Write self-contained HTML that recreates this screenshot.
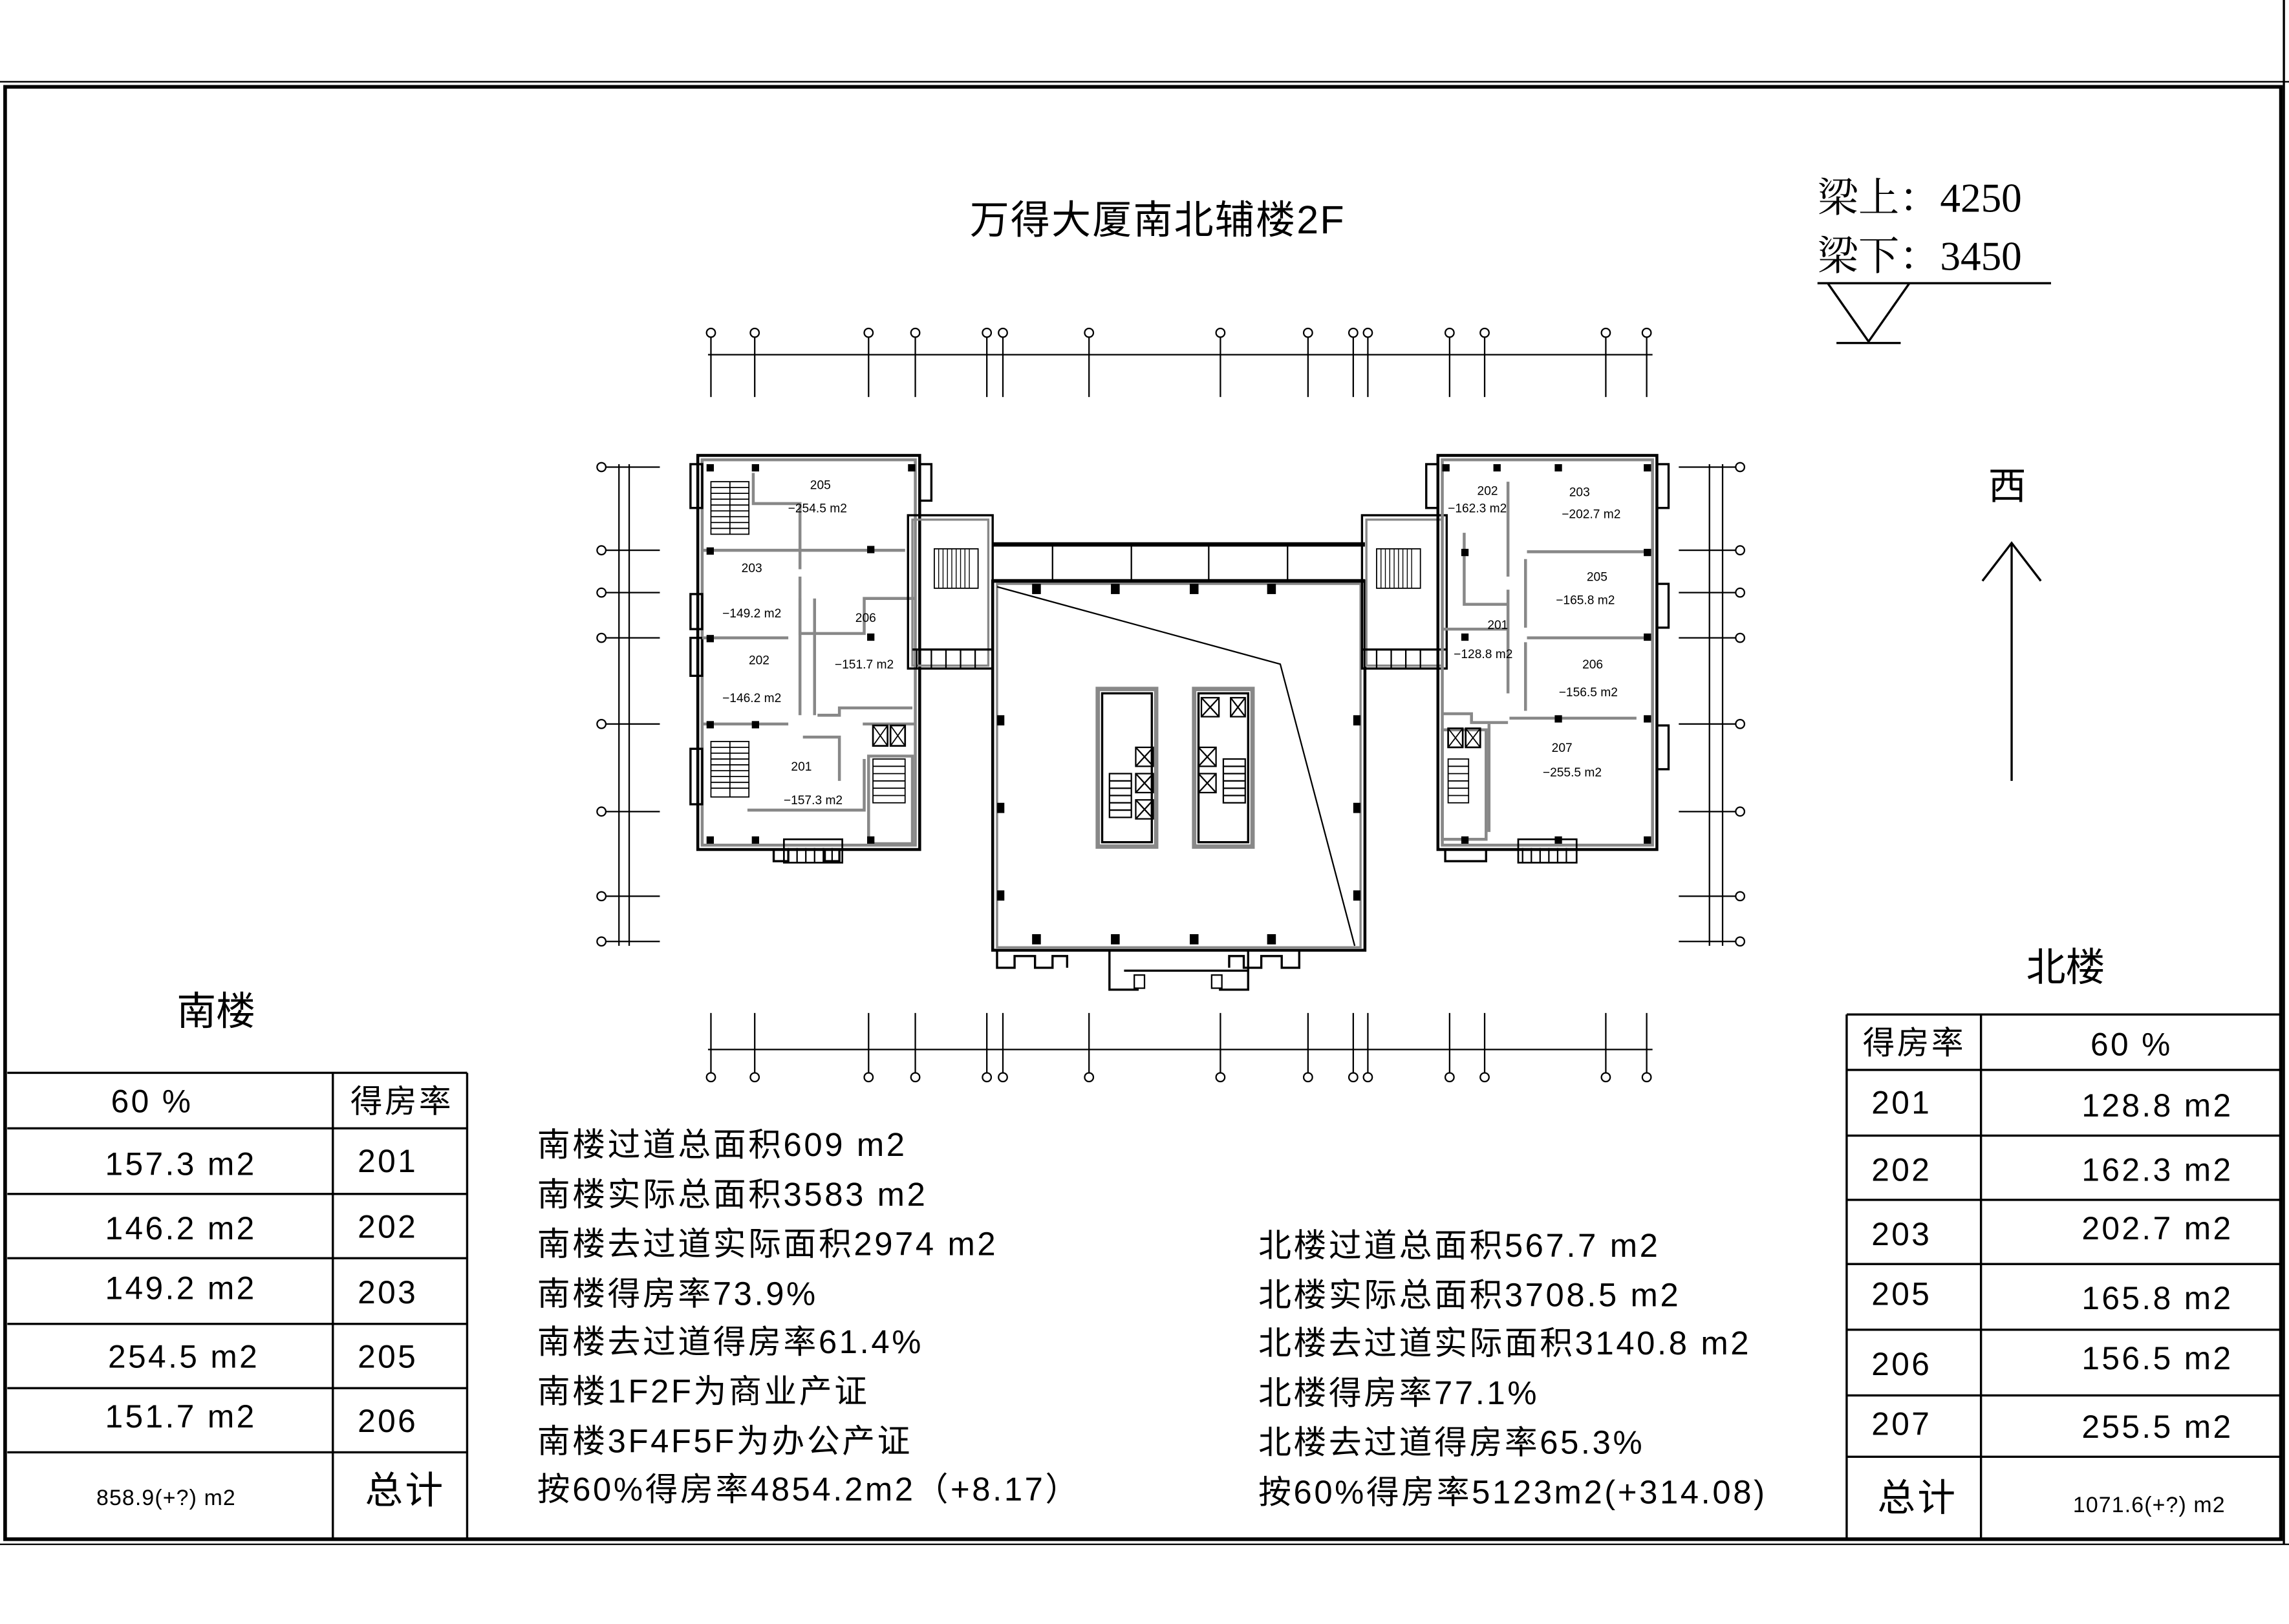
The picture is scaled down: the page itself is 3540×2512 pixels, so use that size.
<!DOCTYPE html>
<html><head><meta charset="utf-8"><style>
html,body{margin:0;padding:0;background:#fff}
svg{display:block}
text{font-family:"Liberation Sans","Noto Sans CJK SC",sans-serif;fill:#000}
.tb text{letter-spacing:1.5px}
.nt text{letter-spacing:1.6px}
</style></head><body>
<svg width="3540" height="2512" viewBox="0 0 1568 1112.6" preserveAspectRatio="none" xmlns="http://www.w3.org/2000/svg">
<rect x="0" y="0" width="1568" height="1112.6" fill="#fff"/>
<!-- frame -->
<g fill="none" stroke="#000">
<line x1="0" y1="56" x2="1568" y2="56" stroke-width="1"/>
<rect x="3.5" y="59.5" width="1559" height="995" stroke-width="2.5"/>
<line x1="0" y1="1058" x2="1568" y2="1058" stroke-width="1"/>
<line x1="1564.5" y1="0" x2="1564.5" y2="1058" stroke-width="1.5"/>
</g>
<!-- title -->
<text x="793" y="160" font-size="27" text-anchor="middle" style="letter-spacing:1px">万得大厦南北辅楼2F</text>
<text x="1245" y="145" font-size="28" style="font-family:'Liberation Serif','Noto Serif CJK SC',serif">梁上：4250</text>
<text x="1245" y="185" font-size="28" style="font-family:'Liberation Serif','Noto Serif CJK SC',serif">梁下：3450</text>
<g stroke="#000" fill="none" stroke-width="1.5">
<line x1="1245" y1="194" x2="1405" y2="194"/>
<polyline points="1252,194 1280,234 1308,194"/>
<line x1="1258" y1="235" x2="1302" y2="235"/>
<line x1="1378" y1="535" x2="1378" y2="372"/>
<polyline points="1358,398 1378,372 1398,398"/>
</g>
<text x="1375" y="342" font-size="26" text-anchor="middle">西</text>
<text x="148" y="702" font-size="27" text-anchor="middle">南楼</text>
<text x="1415" y="672" font-size="27" text-anchor="middle">北楼</text>

<!-- dimension lines top & bottom -->
<g stroke="#000" fill="#fff" stroke-width="1">
<line x1="485" y1="243" x2="1132" y2="243"/>
<line x1="485" y1="719" x2="1132" y2="719"/>
<g>
<line x1="487" y1="228" x2="487" y2="272"/><line x1="517" y1="228" x2="517" y2="272"/><line x1="595" y1="228" x2="595" y2="272"/><line x1="627" y1="228" x2="627" y2="272"/><line x1="676" y1="228" x2="676" y2="272"/><line x1="687" y1="228" x2="687" y2="272"/><line x1="746" y1="228" x2="746" y2="272"/><line x1="836" y1="228" x2="836" y2="272"/><line x1="896" y1="228" x2="896" y2="272"/><line x1="927" y1="228" x2="927" y2="272"/><line x1="937" y1="228" x2="937" y2="272"/><line x1="993" y1="228" x2="993" y2="272"/><line x1="1017" y1="228" x2="1017" y2="272"/><line x1="1100" y1="228" x2="1100" y2="272"/><line x1="1128" y1="228" x2="1128" y2="272"/>
</g>
<g transform="translate(0,466)">
<line x1="487" y1="228" x2="487" y2="272"/><line x1="517" y1="228" x2="517" y2="272"/><line x1="595" y1="228" x2="595" y2="272"/><line x1="627" y1="228" x2="627" y2="272"/><line x1="676" y1="228" x2="676" y2="272"/><line x1="687" y1="228" x2="687" y2="272"/><line x1="746" y1="228" x2="746" y2="272"/><line x1="836" y1="228" x2="836" y2="272"/><line x1="896" y1="228" x2="896" y2="272"/><line x1="927" y1="228" x2="927" y2="272"/><line x1="937" y1="228" x2="937" y2="272"/><line x1="993" y1="228" x2="993" y2="272"/><line x1="1017" y1="228" x2="1017" y2="272"/><line x1="1100" y1="228" x2="1100" y2="272"/><line x1="1128" y1="228" x2="1128" y2="272"/>
</g>
<g>
<circle cx="487" cy="228" r="3"/><circle cx="517" cy="228" r="3"/><circle cx="595" cy="228" r="3"/><circle cx="627" cy="228" r="3"/><circle cx="676" cy="228" r="3"/><circle cx="687" cy="228" r="3"/><circle cx="746" cy="228" r="3"/><circle cx="836" cy="228" r="3"/><circle cx="896" cy="228" r="3"/><circle cx="927" cy="228" r="3"/><circle cx="937" cy="228" r="3"/><circle cx="993" cy="228" r="3"/><circle cx="1017" cy="228" r="3"/><circle cx="1100" cy="228" r="3"/><circle cx="1128" cy="228" r="3"/>
<circle cx="487" cy="738" r="3"/><circle cx="517" cy="738" r="3"/><circle cx="595" cy="738" r="3"/><circle cx="627" cy="738" r="3"/><circle cx="676" cy="738" r="3"/><circle cx="687" cy="738" r="3"/><circle cx="746" cy="738" r="3"/><circle cx="836" cy="738" r="3"/><circle cx="896" cy="738" r="3"/><circle cx="927" cy="738" r="3"/><circle cx="937" cy="738" r="3"/><circle cx="993" cy="738" r="3"/><circle cx="1017" cy="738" r="3"/><circle cx="1100" cy="738" r="3"/><circle cx="1128" cy="738" r="3"/>
</g>
<line x1="424" y1="318" x2="424" y2="648"/><line x1="431" y1="318" x2="431" y2="648"/>
<line x1="412" y1="320" x2="452" y2="320"/><line x1="412" y1="377" x2="452" y2="377"/><line x1="412" y1="406" x2="452" y2="406"/><line x1="412" y1="437" x2="452" y2="437"/><line x1="412" y1="496" x2="452" y2="496"/><line x1="412" y1="556" x2="452" y2="556"/><line x1="412" y1="614" x2="452" y2="614"/><line x1="412" y1="645" x2="452" y2="645"/>
<circle cx="412" cy="320" r="3"/><circle cx="412" cy="377" r="3"/><circle cx="412" cy="406" r="3"/><circle cx="412" cy="437" r="3"/><circle cx="412" cy="496" r="3"/><circle cx="412" cy="556" r="3"/><circle cx="412" cy="614" r="3"/><circle cx="412" cy="645" r="3"/>
<line x1="1171" y1="318" x2="1171" y2="648"/><line x1="1180" y1="318" x2="1180" y2="648"/>
<line x1="1150" y1="320" x2="1192" y2="320"/><line x1="1150" y1="377" x2="1192" y2="377"/><line x1="1150" y1="406" x2="1192" y2="406"/><line x1="1150" y1="437" x2="1192" y2="437"/><line x1="1150" y1="496" x2="1192" y2="496"/><line x1="1150" y1="556" x2="1192" y2="556"/><line x1="1150" y1="614" x2="1192" y2="614"/><line x1="1150" y1="645" x2="1192" y2="645"/>
<circle cx="1192" cy="320" r="3"/><circle cx="1192" cy="377" r="3"/><circle cx="1192" cy="406" r="3"/><circle cx="1192" cy="437" r="3"/><circle cx="1192" cy="496" r="3"/><circle cx="1192" cy="556" r="3"/><circle cx="1192" cy="614" r="3"/><circle cx="1192" cy="645" r="3"/>
</g>

<!-- South building (left) -->
<g fill="none">
<rect x="478" y="312" width="152" height="270" stroke="#000" stroke-width="2"/>
<rect x="481" y="315" width="146" height="264" stroke="#888" stroke-width="2"/>
<rect x="473" y="318" width="8" height="30" stroke="#000" stroke-width="1.5"/>
<rect x="473" y="407" width="8" height="24" stroke="#000" stroke-width="1.5"/>
<rect x="473" y="437" width="8" height="26" stroke="#000" stroke-width="1.5"/>
<rect x="473" y="513" width="8" height="38" stroke="#000" stroke-width="1.5"/>
<rect x="630" y="318" width="8" height="25" stroke="#000" stroke-width="1.5"/>
<g stroke="#888" stroke-width="2">
<line x1="481" y1="377" x2="620" y2="377"/>
<line x1="481" y1="437" x2="540" y2="437"/>
<line x1="481" y1="496" x2="540" y2="496"/>
<polyline points="516,324 516,345 548,345 548,390"/>
<polyline points="548,395 548,434 592,434 592,410 627,410"/>
<line x1="548" y1="410" x2="548" y2="490"/>
<line x1="558" y1="410" x2="558" y2="490"/>
<polyline points="560,490 575,490 575,485 625,485"/>
<polyline points="550,505 575,505 575,535"/>
<polyline points="512,555 592,555 592,520"/>
<line x1="591" y1="496" x2="627" y2="496"/>
<rect x="595" y="518" width="30" height="60"/>
</g>
<g stroke="#000" stroke-width="0.8">
<rect x="487" y="330" width="26" height="36"/>
<path d="M487 334h26M487 338h26M487 342h26M487 346h26M487 350h26M487 354h26M487 358h26M487 362h26M500 330v36"/>
<rect x="487" y="508" width="26" height="38"/>
<path d="M487 512h26M487 516h26M487 520h26M487 524h26M487 528h26M487 532h26M487 536h26M487 540h26M500 508v38"/>
<rect x="598" y="520" width="22" height="30"/>
<path d="M598 525h22M598 530h22M598 535h22M598 540h22M598 545h22"/>
<rect x="598" y="497" width="10" height="14" stroke-width="1.2"/><path d="M598 497l10 14M608 497l-10 14"/>
<rect x="610" y="497" width="10" height="14" stroke-width="1.2"/><path d="M610 497l10 14M620 497l-10 14"/>
</g>
<path d="M530 582v8h10v-8M575 582v8h-10v-8" stroke="#000" stroke-width="1.5"/>
<rect x="537" y="575" width="40" height="16" stroke="#000" stroke-width="1.2"/>
<path d="M540 591v-10M546 591v-10M552 591v-10M558 591v-10M564 591v-10M570 591v-10" stroke="#000"/>
</g>
<g fill="#000">
<rect x="484" y="318" width="5" height="5"/><rect x="515" y="318" width="5" height="5"/><rect x="622" y="318" width="5" height="5"/>
<rect x="484" y="375" width="5" height="5"/><rect x="594" y="374" width="5" height="5"/>
<rect x="594" y="434" width="5" height="5"/><rect x="484" y="435" width="5" height="5"/>
<rect x="484" y="494" width="5" height="5"/><rect x="515" y="494" width="5" height="5"/>
<rect x="484" y="573" width="5" height="5"/><rect x="515" y="573" width="5" height="5"/><rect x="594" y="573" width="5" height="5"/>
</g>
<g font-size="8.5" text-anchor="middle">
<text x="562" y="335">205</text><text x="560" y="351">−254.5 m2</text>
<text x="515" y="392">203</text><text x="515" y="423">−149.2 m2</text>
<text x="593" y="426">206</text><text x="592" y="458">−151.7 m2</text>
<text x="520" y="455">202</text><text x="515" y="481">−146.2 m2</text>
<text x="549" y="528">201</text><text x="557" y="551">−157.3 m2</text>
</g>
<!-- link south -->
<g fill="none" stroke="#000" stroke-width="1.5">
<rect x="622" y="353" width="58" height="105"/>
<rect x="625" y="356" width="52" height="100" stroke="#888"/>
<rect x="640" y="376" width="30" height="27" stroke-width="0.8"/>
<path d="M643 376v27M646 376v27M649 376v27M652 376v27M655 376v27M658 376v27M661 376v27M664 376v27" stroke-width="0.6"/>
<line x1="625" y1="445" x2="680" y2="445"/>
<path d="M628 445v13M638 445v13M648 445v13M658 445v13M668 445v13" stroke-width="1"/>
</g>
<!-- central tower -->
<g fill="none" stroke="#000">
<line x1="680" y1="373" x2="935" y2="373" stroke-width="3"/>
<line x1="680" y1="398" x2="935" y2="398" stroke-width="2.5"/>
<line x1="721" y1="373" x2="721" y2="398"/><line x1="775" y1="373" x2="775" y2="398"/><line x1="828" y1="373" x2="828" y2="398"/><line x1="882" y1="373" x2="882" y2="398"/>
<rect x="680" y="398" width="255" height="253" stroke-width="2"/>
<rect x="683" y="400" width="249" height="249" stroke="#888" stroke-width="1.5"/>
<polyline points="683,402 877,455 928,648" stroke-width="1"/>
<rect x="752" y="472" width="40" height="108" stroke="#888" stroke-width="3"/>
<rect x="818" y="472" width="40" height="108" stroke="#888" stroke-width="3"/>
<rect x="755" y="475" width="34" height="102" stroke-width="1.5"/>
<rect x="821" y="475" width="34" height="102" stroke-width="1.5"/>
<g stroke-width="1"><rect x="778" y="512" width="12" height="13"/><path d="M778 512l12 13M790 512l-12 13"/><rect x="778" y="530" width="12" height="13"/><path d="M778 530l12 13M790 530l-12 13"/><rect x="778" y="548" width="12" height="13"/><path d="M778 548l12 13M790 548l-12 13"/>
<rect x="821" y="512" width="12" height="13"/><path d="M821 512l12 13M833 512l-12 13"/><rect x="821" y="530" width="12" height="13"/><path d="M821 530l12 13M833 530l-12 13"/><rect x="823" y="478" width="12" height="13"/><path d="M823 478l12 13M835 478l-12 13"/><rect x="843" y="478" width="10" height="13"/><path d="M843 478l10 13M853 478l-10 13"/>
<rect x="760" y="530" width="15" height="30"/><path d="M760 535h15M760 540h15M760 545h15M760 550h15M760 555h15"/>
<rect x="838" y="520" width="15" height="30"/><path d="M838 525h15M838 530h15M838 535h15M838 540h15M838 545h15"/></g>
<path d="M683 651v12h12v-8h14v8h12v-8h10v8M890 651v12h-12v-8h-14v8h-12v-8h-10v8" stroke-width="1.5"/>
<path d="M760 651v27h20M855 651v27h-20M770 665h85" stroke-width="1.5"/>
<rect x="777" y="668" width="7" height="9"/><rect x="830" y="668" width="7" height="9"/>
</g>
<g fill="#000">
<rect x="707" y="400" width="6" height="7"/><rect x="761" y="400" width="6" height="7"/><rect x="815" y="400" width="6" height="7"/><rect x="868" y="400" width="6" height="7"/>
<rect x="683" y="490" width="5" height="7"/><rect x="683" y="550" width="5" height="7"/><rect x="683" y="610" width="5" height="7"/>
<rect x="927" y="490" width="5" height="7"/><rect x="927" y="550" width="5" height="7"/><rect x="927" y="610" width="5" height="7"/>
<rect x="707" y="640" width="6" height="7"/><rect x="761" y="640" width="6" height="7"/><rect x="815" y="640" width="6" height="7"/><rect x="868" y="640" width="6" height="7"/>
</g>
<!-- link north -->
<g fill="none" stroke="#000" stroke-width="1.5">
<rect x="933" y="353" width="58" height="105"/>
<rect x="936" y="356" width="52" height="100" stroke="#888"/>
<rect x="943" y="376" width="30" height="27" stroke-width="0.8"/>
<path d="M946 376v27M949 376v27M952 376v27M955 376v27M958 376v27M961 376v27M964 376v27M967 376v27" stroke-width="0.6"/>
<line x1="933" y1="445" x2="991" y2="445"/>
<path d="M943 445v13M953 445v13M963 445v13M973 445v13" stroke-width="1"/>
</g>
<!-- North building (right) -->
<g fill="none">
<rect x="985" y="312" width="150" height="270" stroke="#000" stroke-width="2"/>
<rect x="988" y="315" width="144" height="264" stroke="#888" stroke-width="2"/>
<rect x="977" y="318" width="8" height="30" stroke="#000" stroke-width="1.5"/>
<rect x="1135" y="318" width="8" height="30" stroke="#000" stroke-width="1.5"/>
<rect x="1135" y="400" width="8" height="30" stroke="#000" stroke-width="1.5"/>
<rect x="1135" y="497" width="8" height="30" stroke="#000" stroke-width="1.5"/>
<g stroke="#888" stroke-width="2">
<line x1="1046" y1="378" x2="1132" y2="378"/>
<line x1="1046" y1="437" x2="1132" y2="437"/>
<line x1="1034" y1="492" x2="1121" y2="492"/>
<line x1="1033" y1="330" x2="1033" y2="395"/>
<line x1="1045" y1="383" x2="1045" y2="430"/>
<line x1="1045" y1="440" x2="1045" y2="487"/>
<line x1="1033" y1="404" x2="1033" y2="475"/>
<polyline points="1003,365 1003,414 1033,414"/>
<line x1="988" y1="431" x2="1033" y2="431"/>
<polyline points="988,489 1008,489 1008,495 1033,495"/>
<line x1="1020" y1="496" x2="1020" y2="570"/>
<rect x="988" y="500" width="30" height="75"/>
</g>
<g stroke="#000" stroke-width="0.8">
<rect x="992" y="520" width="14" height="30"/><path d="M992 525h14M992 530h14M992 535h14M992 540h14M992 545h14"/>
<rect x="992" y="499" width="10" height="13" stroke-width="1.2"/><path d="M992 499l10 13M1002 499l-10 13"/>
<rect x="1004" y="499" width="10" height="13" stroke-width="1.2"/><path d="M1004 499l10 13M1014 499l-10 13"/>
</g>
<rect x="1040" y="575" width="40" height="16" stroke="#000" stroke-width="1.2"/>
<path d="M1043 591v-10M1049 591v-10M1055 591v-10M1061 591v-10M1067 591v-10M1073 591v-10" stroke="#000"/>
<path d="M990 582v8h28v-8" stroke="#000" stroke-width="1.5"/>
</g>
<g fill="#000">
<rect x="988" y="318" width="5" height="5"/><rect x="1023" y="318" width="5" height="5"/><rect x="1065" y="318" width="5" height="5"/><rect x="1126" y="318" width="5" height="5"/>
<rect x="1001" y="376" width="5" height="5"/><rect x="1126" y="376" width="5" height="5"/>
<rect x="1001" y="434" width="5" height="5"/><rect x="1126" y="434" width="5" height="5"/>
<rect x="1065" y="490" width="5" height="5"/><rect x="1126" y="490" width="5" height="5"/>
<rect x="1065" y="573" width="5" height="5"/><rect x="1126" y="573" width="5" height="5"/><rect x="1001" y="573" width="5" height="5"/>
</g>
<g font-size="8.5" text-anchor="middle">
<text x="1019" y="339">202</text><text x="1012" y="351">−162.3 m2</text>
<text x="1082" y="340">203</text><text x="1090" y="355">−202.7 m2</text>
<text x="1094" y="398">205</text><text x="1086" y="414">−165.8 m2</text>
<text x="1026" y="431">201</text><text x="1016" y="451">−128.8 m2</text>
<text x="1091" y="458">206</text><text x="1088" y="477">−156.5 m2</text>
<text x="1070" y="515">207</text><text x="1077" y="532">−255.5 m2</text>
</g>

<!-- Left table -->
<g stroke="#000" fill="none" stroke-width="1.5">
<line x1="5" y1="735" x2="320" y2="735"/>
<line x1="5" y1="773" x2="320" y2="773"/>
<line x1="5" y1="818" x2="320" y2="818"/>
<line x1="5" y1="862" x2="320" y2="862"/>
<line x1="5" y1="907" x2="320" y2="907"/>
<line x1="5" y1="951" x2="320" y2="951"/>
<line x1="5" y1="995" x2="320" y2="995"/>
<line x1="228" y1="735" x2="228" y2="1055"/>
<line x1="320" y1="735" x2="320" y2="1055"/>
</g>
<g font-size="22" class="tb">
<text x="76" y="762">60 %</text><text x="240" y="762">得房率</text>
<text x="72" y="805">157.3 m2</text><text x="245" y="803">201</text>
<text x="72" y="849">146.2 m2</text><text x="245" y="848">202</text>
<text x="72" y="890">149.2 m2</text><text x="245" y="893">203</text>
<text x="74" y="937">254.5 m2</text><text x="245" y="937">205</text>
<text x="72" y="978">151.7 m2</text><text x="245" y="981">206</text>
<text x="66" y="1031" font-size="15" style="letter-spacing:0.5px">858.9(+?) m2</text><text x="250" y="1030" font-size="26">总计</text>
</g>
<!-- Right table -->
<g stroke="#000" fill="none" stroke-width="1.5">
<line x1="1265" y1="695" x2="1563" y2="695"/>
<line x1="1265" y1="733" x2="1563" y2="733"/>
<line x1="1265" y1="778" x2="1563" y2="778"/>
<line x1="1265" y1="822" x2="1563" y2="822"/>
<line x1="1265" y1="866" x2="1563" y2="866"/>
<line x1="1265" y1="911" x2="1563" y2="911"/>
<line x1="1265" y1="956" x2="1563" y2="956"/>
<line x1="1265" y1="998" x2="1563" y2="998"/>
<line x1="1265" y1="695" x2="1265" y2="1055"/>
<line x1="1357" y1="695" x2="1357" y2="1055"/>
</g>
<g font-size="22" class="tb">
<text x="1276" y="722">得房率</text><text x="1432" y="723">60 %</text>
<text x="1282" y="763">201</text><text x="1426" y="765">128.8 m2</text>
<text x="1282" y="809">202</text><text x="1426" y="809">162.3 m2</text>
<text x="1282" y="853">203</text><text x="1426" y="849">202.7 m2</text>
<text x="1282" y="894">205</text><text x="1426" y="897">165.8 m2</text>
<text x="1282" y="942">206</text><text x="1426" y="938">156.5 m2</text>
<text x="1282" y="983">207</text><text x="1426" y="985">255.5 m2</text>
<text x="1286" y="1035" font-size="26">总计</text><text x="1420" y="1036" font-size="15" style="letter-spacing:0.5px">1071.6(+?) m2</text>
</g>
<!-- notes -->
<g font-size="22.5" class="nt">
<text x="368" y="792">南楼过道总面积609 m2</text>
<text x="368" y="826">南楼实际总面积3583 m2</text>
<text x="368" y="860">南楼去过道实际面积2974 m2</text>
<text x="368" y="894">南楼得房率73.9%</text>
<text x="368" y="927">南楼去过道得房率61.4%</text>
<text x="368" y="961">南楼1F2F为商业产证</text>
<text x="368" y="995">南楼3F4F5F为办公产证</text>
<text x="368" y="1028">按60%得房率4854.2m2（+8.17）</text>
<text x="862" y="861">北楼过道总面积567.7 m2</text>
<text x="862" y="895">北楼实际总面积3708.5 m2</text>
<text x="862" y="928">北楼去过道实际面积3140.8 m2</text>
<text x="862" y="962">北楼得房率77.1%</text>
<text x="862" y="996">北楼去过道得房率65.3%</text>
<text x="862" y="1030">按60%得房率5123m2(+314.08)</text>
</g>
</svg>
</body></html>
